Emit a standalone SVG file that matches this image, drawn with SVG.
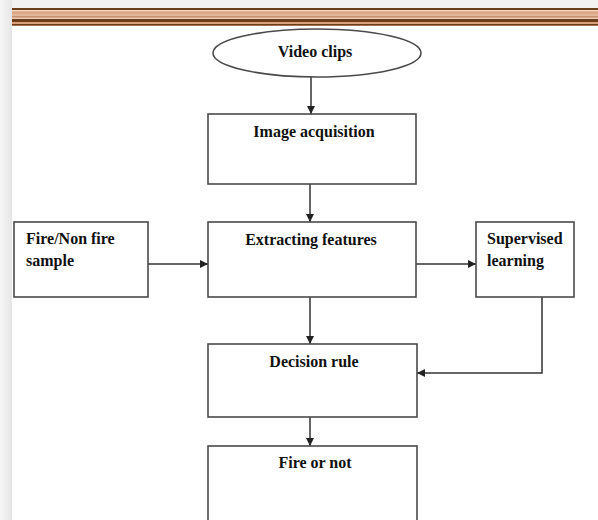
<svg xmlns="http://www.w3.org/2000/svg" width="598" height="520" viewBox="0 0 598 520">
<defs>
<style>
.box{fill:#fff;stroke:#4a4a4a;stroke-width:1.6}
.t{font-family:"Liberation Serif","Times New Roman",serif;font-weight:bold;font-size:16px;fill:#111}
.c{text-anchor:middle}
.ln{fill:none;stroke:#333;stroke-width:1.5}
</style>
<marker id="ah" viewBox="0 0 10 10" refX="10" refY="5" markerWidth="8" markerHeight="8" markerUnits="userSpaceOnUse" orient="auto">
<path d="M0,0 L10,5 L0,10 z" fill="#222"/>
</marker>
<linearGradient id="lg" x1="0" x2="1" y1="0" y2="0">
<stop offset="0" stop-color="#f6f6f6"/>
<stop offset="1" stop-color="#e6e6e6"/>
</linearGradient>
</defs>
<rect x="0" y="0" width="598" height="520" fill="#fff"/>
<rect x="0" y="0" width="598" height="8" fill="#f2f2f2"/>
<rect x="0" y="0" width="12" height="520" fill="url(#lg)"/>
<g id="band">
<rect x="12" y="8" width="586" height="18" fill="#dca888"/>
<rect x="12" y="8" width="586" height="2" fill="#6b3d1a"/>
<rect x="12" y="10" width="586" height="1.2" fill="#f5d9c4"/>
<rect x="12" y="14.7" width="586" height="1" fill="#f5d9c4"/>
<rect x="12" y="15.7" width="586" height="2" fill="#c89070"/>
<rect x="12" y="17.7" width="586" height="1.3" fill="#f0cdb5"/>
<rect x="12" y="19" width="586" height="3" fill="#6b3d1a"/>
<rect x="12" y="22" width="586" height="2" fill="#d9a07e"/>
<rect x="12" y="24" width="586" height="1.5" fill="#6b3d1a"/>
</g>
<g id="connectors">
<line class="ln" x1="311" y1="77" x2="311" y2="114" marker-end="url(#ah)"/>
<line class="ln" x1="310" y1="184" x2="310" y2="222" marker-end="url(#ah)"/>
<line class="ln" x1="148" y1="264" x2="208" y2="264" marker-end="url(#ah)"/>
<line class="ln" x1="416" y1="264" x2="476" y2="264" marker-end="url(#ah)"/>
<line class="ln" x1="310" y1="297" x2="310" y2="344" marker-end="url(#ah)"/>
<polyline class="ln" points="542,297 542,373 417,373" marker-end="url(#ah)"/>
<line class="ln" x1="310" y1="417" x2="310" y2="446" marker-end="url(#ah)"/>
</g>
<g id="video-clips">
<ellipse cx="317" cy="53" rx="104" ry="24" class="box"/>
<text class="t c" x="315" y="57">Video clips</text>
</g>
<g id="image-acquisition">
<rect class="box" x="208" y="114" width="208" height="70"/>
<text class="t c" x="314" y="137">Image acquisition</text>
</g>
<g id="fire-nonfire-sample">
<rect class="box" x="14" y="222" width="134" height="75"/>
<text class="t" x="26" y="244">Fire/Non fire</text>
<text class="t" x="26" y="266">sample</text>
</g>
<g id="extracting-features">
<rect class="box" x="208" y="222" width="208" height="75"/>
<text class="t c" x="311" y="245">Extracting features</text>
</g>
<g id="supervised-learning">
<rect class="box" x="476" y="222" width="98" height="75"/>
<text class="t" x="487" y="244">Supervised</text>
<text class="t" x="487" y="266">learning</text>
</g>
<g id="decision-rule">
<rect class="box" x="208" y="344" width="209" height="73"/>
<text class="t c" x="314" y="367">Decision rule</text>
</g>
<g id="fire-or-not">
<rect class="box" x="208" y="446" width="209" height="84"/>
<text class="t c" x="315" y="468">Fire or not</text>
</g>
</svg>
